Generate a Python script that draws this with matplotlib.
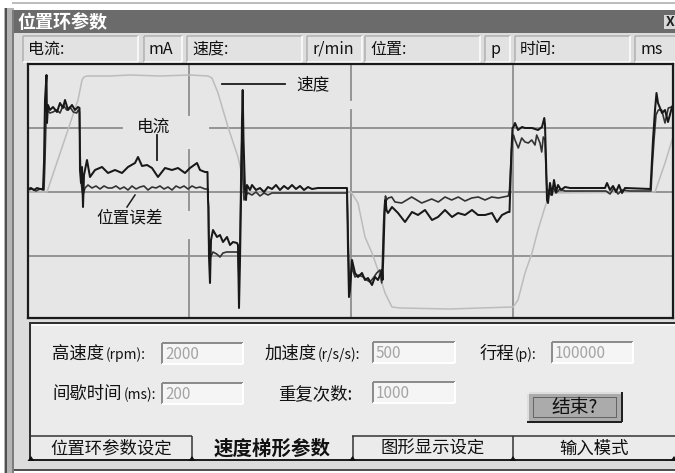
import matplotlib
matplotlib.use('Agg')
import matplotlib.pyplot as plt
from matplotlib.patches import Rectangle, Polygon
import numpy as np

plt.rcParams['font.family'] = ['Noto Sans CJK SC', 'DejaVu Sans']

# ---------------- data (time in samples, values in display counts) ----------------
speed_t = [0, 19, 50, 54, 56, 59, 82, 102, 132, 162, 180, 184, 190, 200, 210, 214, 218, 222,
           323, 330, 337, 344, 350, 357, 364, 372, 422, 452, 485, 490, 497, 504, 510, 517, 522,
           627, 637, 645]
speed_v = [0, 0, 92, 112, 115, 116, 116, 117, 116, 117, 116, 114, 99, 65, 35, 17, 2, 0,
           0, -11, -45, -61, -78, -101, -115, -116, -117, -116, -115, -108, -81, -61, -38, -15, -1,
           0, 29, 55]

current_t = [0, 3, 6, 9, 12, 15,
             16, 17, 18.5, 19, 20, 22, 25, 29, 32, 35, 37, 40, 44, 47, 50, 51.5,
             52, 53, 54, 55, 56, 59, 62, 67, 74, 80, 87, 94, 100, 107, 110, 114, 119, 124, 130, 137,
             144, 150, 157, 162, 169, 172, 177, 179.5,
             180, 180.5, 181, 182, 183, 185, 189, 192, 195, 199, 202, 205, 209, 210, 211, 212, 213,
             214, 214.7, 215.5, 217, 218, 219,
             222, 224, 228, 232, 236, 240, 244, 248, 252, 256, 260, 264, 268, 272, 276, 280, 284, 290,
             302, 318,
             319, 319.5, 320, 321, 322, 324, 327, 330, 334, 337, 340, 344, 347, 350, 354, 354.5, 355.5,
             356.5, 357.5, 358.5,
             360, 364, 370, 377, 384, 390, 397, 404, 410, 417, 424, 430, 437, 444, 450, 457, 464, 469,
             474, 480,
             481.5, 482.5, 483.5, 484.5, 485.5, 487, 490, 494, 497, 504, 510, 514, 516.3, 517, 518, 519,
             520, 522, 524, 526, 528, 530, 533, 537, 542, 572, 577, 579, 582, 585, 588, 591, 594, 597, 622,
             622.5, 623.5, 625, 627, 628.5, 630, 634, 637, 640, 644, 645]
current_v = [3, 4, 2, 4, 3, 3,
             29, 92, 117, 69, 87, 82, 85, 80, 89, 84, 92, 82, 87, 82, 85, 84,
             22, 9, 25, -15, 17, 32, 15, 22, 25, 19, 22, 19, 25, 29, 35, 26, 27, 24, 15, 24,
             22, 24, 19, 24, 29, 22, 20, 20,
             -8, -15, -65, -91, -48, -38, -45, -43, -50, -45, -53, -50, -51, -53, -116, -68, -8,
             72, 102, 52, 2, -8, 7,
             2, 7, 2, 4, 0, 5, 3, 7, 2, 6, 3, 7, 3, 6, 2, 5, 3, 4,
             4, 4,
             4, -23, -58, -105, -98, -68, -81, -85, -81, -88, -86, -93, -85, -88, -78, -88, -58,
             -23, -8, -18,
             -21, -15, -21, -30, -20, -23, -18, -28, -25, -18, -25, -21, -23, -18, -23, -23, -21, -30,
             -23, -20,
             -20, 12, 42, 64, 65, 69, 62, 65, 64, 64, 62, 65, 74, 67, 32, -8,
             -11, 9, -3, 12, 0, 7, 2, 5, 4, 4, 4, 9, 2, 6, 0, 7, -1, 4, 3,
             3, 22, 52, 82, 99, 89, 79, 82, 70, 85, 87]

error_t = [0, 4, 8, 12, 15,
           16, 17, 18, 19, 22, 25, 28.7, 32, 35.3, 38.7, 42, 45.3, 48.7, 50.3, 51.5,
           52, 53, 54, 55, 57, 60, 64, 68, 72, 76, 80, 84, 88, 92, 96, 100, 104, 108, 112, 116,
           120, 124, 128, 132, 136, 140, 144, 148, 152, 156, 160, 164, 168, 172, 177, 179.5,
           180, 181, 182, 185, 188.7, 192, 195, 198.7, 202, 208.7, 210, 211, 212, 213, 214, 215, 216, 218,
           220, 224, 228, 232, 236, 240, 244, 318,
           319, 320, 321, 322, 323.7, 327, 330.3, 335.3, 338.7, 342, 345.3, 348.7, 352, 353.7, 354.5,
           355.5, 356.5, 357.5, 358.5,
           360.3, 363.7, 367, 373.7, 383.7, 393.7, 403.7, 410.3, 417, 423.7, 430.3, 437, 443.7, 450.3,
           457, 463.7, 470.3, 480.3,
           481.5, 482.5, 483.5, 484.5, 485.5, 487, 490.3, 493.7, 497, 500.3, 503.7, 507, 508.7, 512,
           513.7, 515.3, 517, 518, 519,
           520, 523, 525, 528, 532, 537, 578, 582, 586, 590, 594, 602, 622,
           623, 624, 626, 628, 630.3, 633.7, 637, 640.3, 643.7, 645]
error_v = [2, 3, 1, 3, 2,
           2, 32, 72, 82, 79, 80, 82, 79, 87, 82, 85, 80, 79, 82, 80,
           42, 12, 2, -3, 4, 7, 4, 6, 3, 6, 4, 4, 6, 3, 5, 2, 6, 3, 5, 6,
           2, 5, 4, 6, 3, 5, 2, 6, 4, 6, 3, 6, 4, 5, 3, 3,
           3, -63, -66, -60, -62, -65, -61, -60, -60, -60, -61, -88, -48, 22, 57, 12, -8, -3,
           -1, -3, 0, -4, -1, -3, -1, -1,
           -1, -38, -78, -93, -75, -85, -83, -85, -88, -90, -86, -81, -78, -91, -68,
           -33, -13, -4, -8,
           -6, -5, -10, -11, -5, -11, -7, -10, -5, -8, -5, -9, -6, -5,
           -8, -5, -6, -4,
           2, 22, 42, 52, 57, 52, 44, 54, 50, 49, 52, 47, 57, 49,
           40, 55, 52, 22, 2,
           2, -3, 5, -1, 3, 1, 1, -2, 4, -2, 2, 1, 1,
           1, 22, 52, 77, 82, 82, 69, 84, 85, 84]

grid_x = [161, 323, 485]
grid_y = [64, 0, -64]

header_fields = [(23, 138, '电流:'), (144, 182, 'mA'), (187, 302, '速度:'), (307, 362, 'r/min'),
                 (365, 480, '位置:'), (485, 510, 'p'), (515, 630, '时间:'), (635, 676, 'ms')]
param_labels = [('高速度', '(rpm):', 52, 106, 354), ('加速度', '(r/s/s):', 265, 318, 354),
                ('行程', '(p):', 480, 515, 354), ('间歇时间', '(ms):', 52, 124, 394),
                ('重复次数:', '', 278, 0, 394)]
param_boxes = [(162, 343, 243, 364, '2000'), (373, 342, 455, 363, '500'),
               (552, 342, 633, 363, '100000'), (162, 383, 243, 404, '200'),
               (373, 382, 455, 403, '1000')]
tabs = [(30, 192, '位置环参数设定', False), (192, 352, '速度梯形参数', True),
        (352, 513, '图形显示设定', False), (513, 675, '输入模式', False)]

# ---------------- figure / chrome ----------------
W, H = 675, 473
fig = plt.figure(figsize=(W / 100, H / 100), dpi=100)
fig.patch.set_facecolor('white')
bg = fig.add_axes([0, 0, 1, 1])
bg.set_xlim(0, W)
bg.set_ylim(H, 0)
bg.axis('off')

PX = 0.72


def rect(x0, y0, x1, y1, fc, ec='none', lw=0, z=1, ls='-'):
    bg.add_patch(Rectangle((x0, y0), x1 - x0, y1 - y0, facecolor=fc, edgecolor=ec,
                           linewidth=lw * PX, zorder=z, linestyle=ls))


def seg(xs, ys, c, lw=1, z=3, ls='-'):
    bg.plot(xs, ys, color=c, lw=lw * PX, zorder=z, solid_capstyle='butt', linestyle=ls)


def sunken(x0, y0, x1, y1, fc, dark='#9a9a9a', light='#ffffff', w=1.5):
    rect(x0, y0, x1, y1, fc, z=2)
    seg([x0, x1], [y0, y0], dark, w)
    seg([x0, x0], [y0, y1], dark, w)
    seg([x0, x1], [y1, y1], light, w)
    seg([x1, x1], [y0, y1], light, w)


# outer frame
seg([12, 675], [3.5, 3.5], '#a8a8a8', 1.5)
rect(4, 8, 14, 473, '#b4b4b4', z=1)
seg([5.5, 5.5], [8, 473], '#505050', 2)
seg([13, 13], [10, 473], '#6a6a6a', 1.5)
rect(14, 10, 675, 470, '#dcdcdc', z=1)
seg([14, 675], [470, 470], '#505050', 2)
# title bar
rect(14, 10, 675, 33, '#6b6b6b', z=2)
bg.text(17, 22, '位置环参数', color='white', fontsize=13, fontweight='bold',
        ha='left', va='center', zorder=4)
rect(664, 15, 676, 29, '#d8d8d8', z=3)
bg.text(670, 22, 'X', color='#222222', fontsize=10, fontweight='bold', ha='center',
        va='center', zorder=4)

# header fields
for x0, x1, lab in header_fields:
    sunken(x0, 36, x1, 62, '#e2e2e2', dark='#b0b0b0')
    bg.text(x0 + 5, 49.5, lab, fontsize=11.5, ha='left', va='center', color='#111111', zorder=4)

# bottom panel
rect(29, 322, 675, 436, '#ebebeb', z=2)
seg([29, 675], [322.5, 322.5], '#303030', 2)
seg([30, 30], [322, 460], '#303030', 2)
seg([32, 675], [325, 325], '#ffffff', 1.5)

for cjk, par, x0, x1, y in param_labels:
    bg.text(x0, y, cjk, fontsize=12.5, ha='left', va='center', color='#111111', zorder=4)
    if par:
        bg.text(x1, y + 0.5, par, fontsize=10, ha='left', va='center', color='#111111', zorder=4)

for x0, y0, x1, y1, val in param_boxes:
    sunken(x0, y0, x1, y1, '#f5f5f5', dark='#8c8c8c', light='#ffffff', w=2)
    bg.text(x0 + 3, (y0 + y1) / 2 + 0.5, val, fontsize=11, ha='left', va='center',
            color='#a4a4a4', zorder=4)

# button
rect(527, 392, 622, 422, '#ababab', z=2)
seg([527, 622], [392.5, 392.5], '#f0f0f0', 1.5)
seg([527.5, 527.5], [392, 422], '#f0f0f0', 1.5)
seg([527, 622], [421.5, 421.5], '#202020', 2)
seg([621.5, 621.5], [392, 422], '#202020', 2)
rect(533, 397, 616, 417, 'none', ec='#202020', lw=1, z=3, ls=(0, (1, 1)))
bg.text(574.5, 407, '结束?', fontsize=13.5, ha='center', va='center', color='#111111', zorder=4)

# tabs
for x0, x1, lab, active in tabs:
    rect(x0, 436, x1, 460, '#ebebeb', z=2)
    if not active:
        seg([x0, x1], [436, 436], '#303030', 1.5)
    bg.text((x0 + x1) / 2, 448.5, lab, fontsize=14 if active else 12.5,
            fontweight='bold' if active else 'normal', ha='center', va='center',
            color='#111111', zorder=4)
seg([30, 675], [460, 460], '#202020', 2)
for xs in [192, 352.5, 513]:
    seg([xs, xs], [436, 460], '#303030', 1.5)
for xc in [31, 192, 352.5, 513, 674]:
    bg.add_patch(Polygon([[xc - 3.5, 461], [xc + 3.5, 461], [xc, 456]], closed=True,
                         facecolor='#111111', edgecolor='none', zorder=5))

# ---------------- oscilloscope plot ----------------
ax = fig.add_axes([28 / W, (H - 318) / H, 645 / W, 254 / H])
ax.set_xlim(0, 645)
ax.set_ylim(-126, 128)
ax.set_facecolor('#e6e6e6')
ax.set_xticks([])
ax.set_yticks([])
for s in ax.spines.values():
    s.set_color('#1a1a1a')
    s.set_linewidth(1.6)

gcol = '#8e8e8e'
glw = 1.3
# horizontal grid lines (gap behind the 电流 label on the upper one)
ax.plot([0, 94, np.nan, 182, 645], [grid_y[0]] * 2 + [np.nan] + [grid_y[0]] * 2,
        color=gcol, lw=glw, zorder=1)
for gy in grid_y[1:]:
    ax.plot([0, 645], [gy, gy], color=gcol, lw=glw, zorder=1)
# vertical grid lines
ax.plot([grid_x[0]] * 2 + [np.nan] + [grid_x[0]] * 2 + [np.nan] + [grid_x[0]] * 2,
        [128, 77, np.nan, 42, -18, np.nan, -48, -126], color=gcol, lw=glw, zorder=1)
ax.plot([grid_x[1]] * 2 + [np.nan] + [grid_x[1]] * 2,
        [128, 92, np.nan, 82, -126], color=gcol, lw=glw, zorder=1)
ax.plot([grid_x[2]] * 2, [128, -126], color=gcol, lw=glw, zorder=1)

ax.plot(speed_t, speed_v, color='#bcbcbc', lw=1.1, zorder=2)
ax.plot(error_t, error_v, color='#333333', lw=1.2, zorder=3)
ax.plot(current_t, current_v, color='#181818', lw=1.45, zorder=4)

# annotations
ax.text(125.5, 65, '电流', fontsize=12, ha='center', va='center', color='#111111', zorder=5)
ax.plot([129, 129], [57, 32], color='#1c1c1c', lw=1.3, zorder=5)
ax.text(102, -26, '位置误差', fontsize=12, ha='center', va='center', color='#111111', zorder=5)
ax.plot([107, 99], [-3, -15], color='#1c1c1c', lw=1.1, zorder=5)
ax.text(268, 107, '速度', fontsize=12, ha='left', va='center', color='#111111', zorder=5)
ax.plot([194, 257], [108, 108], color='#1c1c1c', lw=1.3, zorder=5)

fig.savefig('out.png', dpi=100, facecolor=fig.get_facecolor())
